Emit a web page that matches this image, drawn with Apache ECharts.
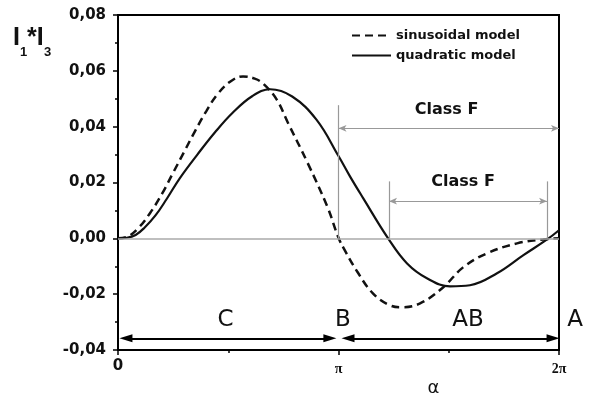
<!DOCTYPE html>
<html><head><meta charset="utf-8">
<script src="https://cdn.jsdelivr.net/npm/echarts@6/dist/echarts.min.js"></script>
<style>html,body{margin:0;padding:0;background:#fff}#c{width:591px;height:394px}</style>
</head><body><div id="c"></div>
<script>
// x values are alpha / pi (0 .. 2)
const sinX = [0, 0.04, 0.09, 0.145, 0.2, 0.25, 0.3, 0.35, 0.40, 0.45, 0.51, 0.567, 0.62, 0.66, 0.72, 0.77, 0.86, 0.95, 1.0, 1.03, 1.084, 1.156, 1.234, 1.288, 1.37, 1.474, 1.565, 1.673, 1.81, 1.927, 2.0];
const sinY = [0, 0.0005, 0.0035, 0.009, 0.016, 0.0235, 0.031, 0.0385, 0.0455, 0.0515, 0.0562, 0.058, 0.0572, 0.0553, 0.0497, 0.0415, 0.027, 0.0112, 0.0002, -0.0045, -0.0118, -0.0197, -0.024, -0.0247, -0.0233, -0.0176, -0.0104, -0.0054, -0.0018, -0.0004, 0];
const quadX = [0, 0.04, 0.08, 0.12, 0.17, 0.22, 0.28, 0.36, 0.44, 0.52, 0.61, 0.69, 0.79, 0.90, 1.0, 1.052, 1.111, 1.225, 1.311, 1.401, 1.506, 1.596, 1.719, 1.837, 1.946, 2.0];
const quadY = [0, 0.0002, 0.0012, 0.0038, 0.0082, 0.014, 0.0215, 0.030, 0.038, 0.045, 0.051, 0.0534, 0.0508, 0.0425, 0.0295, 0.0222, 0.0145, 0, -0.009, -0.0143, -0.0172, -0.0168, -0.0125, -0.0061, -0.0004, 0.0029];
const seriesNames = ['sinusoidal model', 'quadratic model'];
const xTickLabels = {0: '0', 1: 'π', 2: '2π'};
const xAxisTitle = 'α';

// annotations (data coordinates)
const classFSpans = [[1.0, 2.0, 0.0477, 0.0394], [1.229, 1.946, 0.0204, 0.0133]]; // from, to, top of bars, arrow level
const regionArrows = [[0.036, 0.961, -0.0358], [1.043, 1.973, -0.0358]];
const bigLabels = [['C', 0.4875, -0.0292], ['B', 1.02, -0.0292], ['AB', 1.587, -0.0292], ['A', 2.073, -0.0292]];
const classFLabels = [['Class F', 1.49, 0.0459], ['Class F', 1.565, 0.0202]];

const F = 'DejaVu Sans';
const chart = echarts.init(document.getElementById('c'), null, {renderer: 'canvas'});

const zip = (xs, ys) => xs.map((x, i) => [x, ys[i]]);

const plainLines = [{yAxis: 0, lineStyle: {color: '#aaa', width: 1.5}}];
classFSpans.forEach(s => {
  plainLines.push([{coord: [s[0], 0]}, {coord: [s[0], s[2]]}]);
  if (s[0] !== 1.0) plainLines.push([{coord: [s[1], 0]}, {coord: [s[1], s[2]]}]);
});
const grayArrows = classFSpans.map(s => [{coord: [s[0], s[3]]}, {coord: [s[1], s[3]]}]);
const blackArrows = regionArrows.map(a => [{coord: [a[0], a[2]]}, {coord: [a[1], a[2]]}]);

const option = {
  animation: false,
  backgroundColor: '#fff',
  grid: {left: 118, right: 32, top: 15, bottom: 44, show: true, borderColor: '#000', borderWidth: 2, backgroundColor: 'transparent'},
  legend: {
    data: seriesNames, orient: 'vertical', left: 346, top: 24,
    itemWidth: 39, itemHeight: 14, itemGap: 7,
    itemStyle: {opacity: 0, borderWidth: 0},
    textStyle: {fontFamily: F, fontWeight: 'bold', fontSize: 13, color: '#111'}
  },
  xAxis: {
    type: 'value', min: 0, max: 2, interval: 1,
    axisLine: {onZero: false, lineStyle: {color: '#000', width: 2}},
    axisTick: {length: 5, lineStyle: {color: '#000', width: 1.5}},
    minorTick: {show: true, splitNumber: 2, length: 3, lineStyle: {color: '#000', width: 1.5}},
    splitLine: {show: false},
    axisLabel: {
      margin: 9,
      formatter: v => v === 0 ? '{z|0}' : ('{p|' + (xTickLabels[v] || '') + '}'),
      rich: {
        z: {fontFamily: F, fontWeight: 'bold', fontSize: 15, color: '#111'},
        p: {fontFamily: 'Liberation Serif', fontWeight: 'bold', fontSize: 14, color: '#111', padding: [3, 0, 0, 0]}
      }
    }
  },
  yAxis: {
    type: 'value', min: -0.04, max: 0.08, interval: 0.02,
    axisLine: {onZero: false, lineStyle: {color: '#000', width: 2}},
    axisTick: {length: 5, lineStyle: {color: '#000', width: 1.5}},
    minorTick: {show: true, splitNumber: 2, length: 3, lineStyle: {color: '#000', width: 1.5}},
    splitLine: {show: false},
    axisLabel: {margin: 12, formatter: v => v.toFixed(2).replace('.', ','), fontFamily: F, fontWeight: 'bold', fontSize: 15, color: '#111'}
  },
  series: [
    {type: 'line', name: 'annPlain', data: [], silent: true, z: 1,
      markLine: {silent: true, symbol: 'none', label: {show: false}, lineStyle: {color: '#999', width: 1.2, type: 'solid'}, data: plainLines}},
    {type: 'line', name: 'annGray', data: [], silent: true, z: 1,
      markLine: {silent: true, symbol: ['arrow', 'arrow'], symbolSize: [5, 8], label: {show: false}, lineStyle: {color: '#999', width: 1.2, type: 'solid'}, data: grayArrows}},
    {type: 'line', name: 'annBlack', data: [], silent: true, z: 1,
      markLine: {silent: true, symbol: ['triangle', 'triangle'], symbolSize: [8, 13], label: {show: false}, lineStyle: {color: '#000', width: 2, type: 'solid'}, itemStyle: {color: '#000'}, data: blackArrows}},
    {type: 'line', name: seriesNames[0], data: zip(sinX, sinY), smooth: 0.4, symbol: 'none', z: 3,
      lineStyle: {color: '#111', width: 2.5, type: [8, 5]}, itemStyle: {color: '#111'}},
    {type: 'line', name: seriesNames[1], data: zip(quadX, quadY), smooth: 0.4, symbol: 'none', z: 3,
      lineStyle: {color: '#111', width: 2.2, type: 'solid'}, itemStyle: {color: '#111'}}
  ]
};
chart.setOption(option);

const texts = [];
const mk = (label, p, size, weight) => ({
  type: 'text', x: p[0], y: p[1], silent: true,
  style: {text: label, fontFamily: F, fontSize: size, fontWeight: weight, fill: '#111', align: 'center', verticalAlign: 'middle', textAlign: 'center', textVerticalAlign: 'middle'}
});
bigLabels.forEach(t => texts.push(mk(t[0], chart.convertToPixel({gridIndex: 0}, [t[1], t[2]]), 23, 'normal')));
classFLabels.forEach(t => texts.push(mk(t[0], chart.convertToPixel({gridIndex: 0}, [t[1], t[2]]), 16, 'bold')));
// x-axis title, placed under the axis at alpha ~ 1.43 pi
const axisPt = chart.convertToPixel({gridIndex: 0}, [1.43, -0.04]);
texts.push({type: 'text', x: axisPt[0], y: axisPt[1] + 38, silent: true,
  style: {text: xAxisTitle, fontFamily: F, fontSize: 18, fill: '#111', align: 'center', verticalAlign: 'middle', textAlign: 'center', textVerticalAlign: 'middle'}});
// y-axis title I1*I3
const tt = (s, x, y, size) => ({type: 'text', x: x, y: y, silent: true,
  style: {text: s, fontFamily: 'Liberation Sans', fontWeight: 'bold', fontSize: size, fill: '#111', align: 'left', verticalAlign: 'middle', textAlign: 'left', textVerticalAlign: 'middle'}});
texts.push(tt('I', 13, 38, 25), tt('1', 20, 52, 13), tt('*I', 27, 38, 25), tt('3', 44, 52, 13));
chart.setOption({graphic: texts});
</script>
</body></html>
